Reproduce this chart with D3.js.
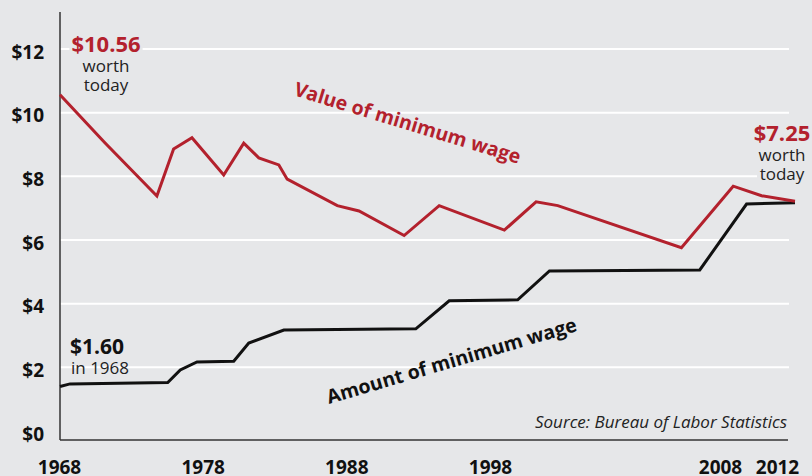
<!DOCTYPE html>
<html>
<head>
<meta charset="utf-8">
<script src="https://cdn.jsdelivr.net/npm/d3@7"></script>
<style>
  html, body { margin: 0; padding: 0; background: #e6e7e9; }
  svg { display: block; }
  text { font-family: "Open Sans", "Noto Sans", sans-serif; }
</style>
</head>
<body>
<svg id="chart"></svg>
<script>
// value of the minimum wage in today's dollars
const valueYears = [1968, 1970.7, 1973.8, 1974.8, 1975.9, 1977.8, 1979.0, 1979.9, 1981.1, 1981.6,
    1984.6, 1985.9, 1988.6, 1990.7, 1994.6, 1996.5, 1997.8, 2005.2, 2008.3, 2010.0, 2012]
const valueWage = [10.56, 9.05, 7.38, 8.86, 9.21, 8.04, 9.04, 8.58, 8.36, 7.91,
    7.08, 6.91, 6.14, 7.08, 6.31, 7.20, 7.08, 5.76, 7.69, 7.39, 7.22]

// nominal amount of the minimum wage
const amountYears = [1968, 1968.6, 1974.45, 1975.2, 1976.2, 1978.4, 1979.3, 1981.4, 1989.3,
    1991.3, 1995.4, 1997.3, 2006.3, 2009.1, 2012]
const amountWage = [1.40, 1.48, 1.52, 1.92, 2.17, 2.19, 2.76, 3.17, 3.21,
    4.09, 4.12, 5.03, 5.06, 7.13, 7.17]

const yTicks = [0, 2, 4, 6, 8, 10, 12]
const xTickYears = [1968, 1978, 1988, 1998, 2008, 2012]

const W = 812, H = 476
const bg = "#e6e7e9"
const red = "#b3212d"

const svg = d3.select("#chart")
    .attr("width", W)
    .attr("height", H)

svg.append("rect")
    .attr("width", W)
    .attr("height", H)
    .attr("fill", bg)

const x = d3.scaleLinear().domain([1968, 2012]).range([60, 795])
const y = d3.scaleLinear().domain([0, 12]).range([431, 49])
// the original graphic does not put its year labels under their data years,
// so the labels get their own (piecewise) scale
const xLabel = d3.scaleLinear().domain([1968, 1998, 2008, 2012]).range([59, 490, 720, 777])

// gridlines
svg.append("g")
    .selectAll("line")
    .data(yTicks.filter(d => d > 0))
    .join("line")
    .attr("x1", 60)
    .attr("x2", 789)
    .attr("y1", d => y(d))
    .attr("y2", d => y(d))
    .attr("stroke", "#fff")
    .attr("stroke-width", 2)

// y axis labels
const yAxis = svg.append("g")
    .attr("transform", "translate(60,3)")
    .call(d3.axisLeft(y).tickValues(yTicks).tickFormat(d => "$" + d).tickSize(0).tickPadding(16))
yAxis.select(".domain").remove()
yAxis.selectAll("text")
    .attr("font-family", "Open Sans")
    .attr("font-weight", "bold")
    .attr("font-size", 19)
    .attr("fill", "#111")

// x axis labels
const xAxis = svg.append("g")
    .attr("transform", "translate(0,440)")
    .call(d3.axisBottom(xLabel).tickValues(xTickYears).tickFormat(d3.format("d")).tickSize(0).tickPadding(21))
xAxis.select(".domain").remove()
xAxis.selectAll("text")
    .attr("font-family", "Open Sans")
    .attr("font-weight", "bold")
    .attr("font-size", 19)
    .attr("fill", "#111")

// axis lines
svg.append("line")
    .attr("x1", 60).attr("x2", 60)
    .attr("y1", 12).attr("y2", 440)
    .attr("stroke", "#333")
    .attr("stroke-width", 1.5)
svg.append("line")
    .attr("x1", 60).attr("x2", 788)
    .attr("y1", 440).attr("y2", 440)
    .attr("stroke", "#333")
    .attr("stroke-width", 1.5)

const line = d3.line()
    .x(d => x(d[0]))
    .y(d => y(d[1]))

svg.append("path")
    .attr("d", line(d3.zip(amountYears, amountWage)))
    .attr("fill", "none")
    .attr("stroke", "#111")
    .attr("stroke-width", 3)

svg.append("path")
    .attr("d", line(d3.zip(valueYears, valueWage)))
    .attr("fill", "none")
    .attr("stroke", red)
    .attr("stroke-width", 3)

// annotations
function note(px, py, lines, anchor) {
    const g = svg.append("g")
    const bgRect = g.append("rect").attr("fill", bg)
    const t = g.append("text")
        .attr("x", px)
        .attr("y", py)
        .attr("text-anchor", anchor)
    lines.forEach((l, i) => {
        t.append("tspan")
            .attr("x", px)
            .attr("dy", i == 0 ? 0 : l.dy)
            .attr("font-size", l.size)
            .attr("font-weight", l.bold ? "bold" : "normal")
            .attr("fill", l.color)
            .text(l.text)
    })
    return { g, bgRect, t }
}

const left = note(106, 52, [
    { text: "$10.56", size: 22, bold: true, color: red },
    { text: "worth", size: 17, color: "#222", dy: 20 },
    { text: "today", size: 17, color: "#222", dy: 19 }
], "middle")
let bb = left.t.node().getBBox()
left.bgRect.attr("x", bb.x - 2).attr("y", bb.y).attr("width", bb.width + 4).attr("height", bb.height)

const right = note(782, 141, [
    { text: "$7.25", size: 22, bold: true, color: red },
    { text: "worth", size: 17, color: "#222", dy: 20 },
    { text: "today", size: 17, color: "#222", dy: 19 }
], "middle")
bb = right.t.node().getBBox()
right.bgRect.attr("x", 757).attr("y", bb.y).attr("width", W - 757).attr("height", bb.height)

svg.append("text")
    .attr("x", 70)
    .attr("y", 354)
    .attr("font-size", 21)
    .attr("font-weight", "bold")
    .attr("fill", "#111")
    .text("$1.60")
svg.append("text")
    .attr("x", 71)
    .attr("y", 374)
    .attr("font-size", 17)
    .attr("fill", "#222")
    .text("in 1968")

svg.append("text")
    .attr("transform", "translate(293,95) rotate(17)")
    .attr("font-size", 19.5)
    .attr("font-weight", "bold")
    .attr("fill", red)
    .text("Value of minimum wage")

svg.append("text")
    .attr("transform", "translate(329,404) rotate(-16.4)")
    .attr("font-size", 19.5)
    .attr("font-weight", "bold")
    .attr("fill", "#111")
    .text("Amount of minimum wage")

svg.append("text")
    .attr("x", 787)
    .attr("y", 428)
    .attr("text-anchor", "end")
    .attr("font-family", "Lato")
    .attr("font-style", "italic")
    .attr("font-size", 17)
    .attr("fill", "#222")
    .text("Source: Bureau of Labor Statistics")
</script>
</body>
</html>
